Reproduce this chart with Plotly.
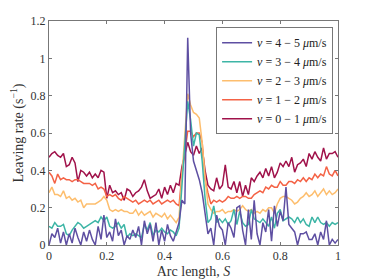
import plotly.graph_objects as go

S = [round(i * 0.01, 2) for i in range(101)]

v0_1 = [0.47, 0.49, 0.50, 0.48, 0.47, 0.49, 0.42, 0.43, 0.47, 0.44, 0.34, 0.40, 0.39, 0.37, 0.39, 0.36, 0.38, 0.36, 0.40, 0.39,
        0.25, 0.32, 0.28, 0.29, 0.27, 0.28, 0.24, 0.30, 0.29, 0.26, 0.28, 0.29, 0.31, 0.35, 0.29, 0.25, 0.26, 0.27, 0.30, 0.25,
        0.31, 0.27, 0.32, 0.28, 0.33, 0.32, 0.42, 0.48, 0.55, 0.50, 0.48, 0.53, 0.49, 0.52, 0.40, 0.32, 0.30, 0.29, 0.36, 0.30,
        0.32, 0.43, 0.31, 0.30, 0.34, 0.28, 0.34, 0.26, 0.32, 0.27, 0.36, 0.34, 0.37, 0.39, 0.36, 0.41, 0.37, 0.42, 0.36, 0.39,
        0.44, 0.42, 0.45, 0.42, 0.47, 0.39, 0.43, 0.44, 0.46, 0.42, 0.49, 0.46, 0.50, 0.47, 0.45, 0.52, 0.46, 0.49, 0.49, 0.50, 0.47]
v1_2 = [0.39, 0.37, 0.33, 0.38, 0.35, 0.36, 0.35, 0.35, 0.34, 0.35, 0.35, 0.34, 0.33, 0.33, 0.33, 0.32, 0.33, 0.30, 0.31, 0.30,
        0.26, 0.27, 0.26, 0.27, 0.25, 0.24, 0.26, 0.25, 0.24, 0.23, 0.24, 0.22, 0.23, 0.24, 0.23, 0.24, 0.22, 0.23, 0.24, 0.22,
        0.23, 0.24, 0.23, 0.24, 0.22, 0.21, 0.38, 0.50, 0.61, 0.61, 0.58, 0.60, 0.60, 0.55, 0.35, 0.28, 0.22, 0.24, 0.23, 0.24,
        0.23, 0.24, 0.26, 0.25, 0.25, 0.26, 0.25, 0.26, 0.26, 0.25, 0.25, 0.27, 0.28, 0.29, 0.28, 0.31, 0.30, 0.32, 0.31, 0.31,
        0.34, 0.32, 0.32, 0.34, 0.34, 0.33, 0.35, 0.34, 0.36, 0.34, 0.36, 0.35, 0.38, 0.36, 0.38, 0.37, 0.42, 0.38, 0.37, 0.40, 0.37]
v2_3 = [0.28, 0.31, 0.27, 0.27, 0.26, 0.29, 0.25, 0.26, 0.24, 0.25, 0.23, 0.24, 0.20, 0.22, 0.22, 0.22, 0.22, 0.23, 0.24, 0.26,
        0.24, 0.19, 0.18, 0.19, 0.18, 0.19, 0.18, 0.18, 0.17, 0.17, 0.19, 0.16, 0.18, 0.16, 0.17, 0.18, 0.15, 0.17, 0.16, 0.15,
        0.17, 0.14, 0.16, 0.14, 0.12, 0.15, 0.38, 0.60, 0.81, 0.75, 0.71, 0.70, 0.68, 0.55, 0.36, 0.22, 0.19, 0.17, 0.18, 0.18,
        0.19, 0.17, 0.18, 0.18, 0.19, 0.18, 0.19, 0.21, 0.19, 0.18, 0.19, 0.17, 0.18, 0.17, 0.19, 0.18, 0.20, 0.20, 0.17, 0.22,
        0.25, 0.26, 0.26, 0.25, 0.24, 0.22, 0.23, 0.25, 0.26, 0.28, 0.26, 0.27, 0.29, 0.26, 0.28, 0.30, 0.27, 0.29, 0.27, 0.28, 0.30]
v3_4 = [0.10, 0.09, 0.12, 0.10, 0.10, 0.11, 0.06, 0.05, 0.08, 0.10, 0.12, 0.11, 0.09, 0.10, 0.11, 0.12, 0.13, 0.12, 0.15, 0.13,
        0.15, 0.10, 0.09, 0.10, 0.12, 0.09, 0.11, 0.04, 0.06, 0.05, 0.06, 0.05, 0.04, 0.11, 0.08, 0.12, 0.05, 0.08, 0.07, 0.09,
        0.07, 0.06, 0.08, 0.07, 0.05, 0.09, 0.30, 0.55, 0.77, 0.67, 0.53, 0.60, 0.59, 0.45, 0.25, 0.12, 0.14, 0.21, 0.12, 0.14,
        0.12, 0.14, 0.11, 0.13, 0.19, 0.11, 0.18, 0.12, 0.10, 0.11, 0.19, 0.14, 0.13, 0.12, 0.14, 0.12, 0.10, 0.15, 0.09, 0.17,
        0.19, 0.13, 0.14, 0.15, 0.14, 0.12, 0.15, 0.12, 0.14, 0.11, 0.10, 0.15, 0.12, 0.15, 0.12, 0.11, 0.12, 0.10, 0.12, 0.11, 0.12]
v4_5 = [0.00, 0.06, 0.04, 0.09, 0.01, 0.07, 0.00, 0.06, 0.01, 0.09, 0.04, 0.00, 0.07, 0.02, 0.08, 0.03, 0.00, 0.10, 0.03, 0.16,
        0.04, 0.07, 0.02, 0.14, 0.05, 0.08, 0.00, 0.05, 0.03, 0.08, 0.04, 0.10, 0.00, 0.13, 0.06, 0.11, 0.02, 0.12, 0.00, 0.08,
        0.02, 0.11, 0.05, 0.02, 0.07, 0.12, 0.24, 0.22, 1.11, 0.60, 0.45, 0.40, 0.35, 0.28, 0.18, 0.06, 0.09, 0.00, 0.16, 0.10,
        0.08, 0.00, 0.12, 0.09, 0.04, 0.20, 0.21, 0.08, 0.00, 0.19, 0.03, 0.24, 0.06, 0.00, 0.12, 0.07, 0.19, 0.02, 0.21, 0.10,
        0.18, 0.13, 0.31, 0.11, 0.09, 0.07, 0.00, 0.06, 0.06, 0.07, 0.03, 0.03, 0.06, 0.00, 0.07, 0.03, 0.13, 0.00, 0.03, 0.01, 0.03]

series = [
    ("<i>v</i> = 4 − 5 <i>μ</i>m/s", v4_5, "#5E4FA2"),
    ("<i>v</i> = 3 − 4 <i>μ</i>m/s", v3_4, "#3DB5A6"),
    ("<i>v</i> = 2 − 3 <i>μ</i>m/s", v2_3, "#FDBE6E"),
    ("<i>v</i> = 1 − 2 <i>μ</i>m/s", v1_2, "#F46245"),
    ("<i>v</i> = 0 − 1 <i>μ</i>m/s", v0_1, "#A0124A"),
]

x_ticks = [0, 0.2, 0.4, 0.6, 0.8, 1]
x_labels = ["0", "0.2", "0.4", "0.6", "0.8", "1"]
y_ticks = [0, 0.2, 0.4, 0.6, 0.8, 1, 1.2]
y_labels = ["0", "0.2", "0.4", "0.6", "0.8", "1", "1.2"]

FONT = "Liberation Serif"

fig = go.Figure()
# draw in reverse so the first legend entry is on top
for name, vals, col in reversed(series):
    fig.add_trace(go.Scatter(x=S, y=vals, mode="lines", name=name,
                             line=dict(color=col, width=1.5)))

axis_common = dict(
    showgrid=False, zeroline=False, showline=True, mirror="ticks",
    linecolor="#777777", linewidth=1, ticks="inside", ticklen=3,
    tickcolor="#777777", automargin=False,
    tickfont=dict(family=FONT, size=12, color="#333333"),
)

# page body adds an 8px offset, so the figure is 8px smaller than the window
fig.update_layout(
    width=366, height=272,
    margin=dict(l=41, r=36, t=13, b=35),
    paper_bgcolor="white", plot_bgcolor="white",
    font=dict(family=FONT, color="#333333"),
    xaxis=dict(range=[0, 1], tickvals=x_ticks, ticktext=x_labels,
               title=dict(text="Arc length, <i>S</i>", font=dict(size=14), standoff=3),
               **axis_common),
    yaxis=dict(range=[0, 1.2], tickvals=y_ticks, ticktext=y_labels,
               title=dict(text="Leaving rate (s<sup>−1</sup>)", font=dict(size=14), standoff=6),
               **axis_common),
    legend=dict(x=0.983, y=0.972, xanchor="right", yanchor="top",
                traceorder="reversed",
                bgcolor="white", bordercolor="#777777", borderwidth=1,
                font=dict(family=FONT, size=12, color="#222222"),
                itemwidth=30, tracegroupgap=0),
    showlegend=True,
)

fig.write_html("out.html")
